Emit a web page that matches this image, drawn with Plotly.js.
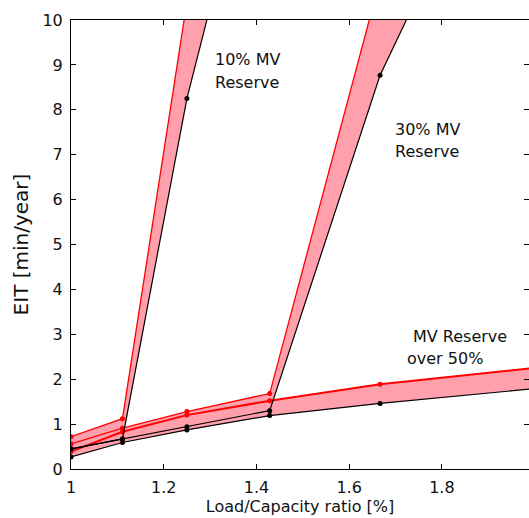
<!DOCTYPE html>
<html><head><meta charset="utf-8">
<script src="https://cdn.plot.ly/plotly-3.0.1.min.js"></script>
<style>html,body{margin:0;padding:0;background:#fff;overflow:hidden}</style>
</head><body><div id="chart" style="width:529px;height:518px"></div>
<script>
// Load/Capacity ratio sample points (1/0.9, 1/0.8, ... )
const xLoad = [1, 1.111, 1.25, 1.4286, 1.6667, 2];
// 10% MV reserve band
const tenBlack = [0.45, 0.67, 8.25, 15.5];
const tenRed = [0.72, 1.12, 10.4];
// 30% MV reserve band
const thirtyBlack = [0.45, 0.67, 0.94, 1.30, 8.77, 16.0];
const thirtyRed = [0.56, 0.91, 1.28, 1.68, 10.9];
// MV reserve over 50% band
const fiftyBlack = [0.27, 0.59, 0.87, 1.19, 1.46, 1.79];
const fiftyRed = [0.39, 0.83, 1.20, 1.52, 1.89, 2.25];
const xTicks = [1, 1.2, 1.4, 1.6, 1.8];
const xTickLabels = ['1', '1.2', '1.4', '1.6', '1.8'];
const yTicks = [0, 1, 2, 3, 4, 5, 6, 7, 8, 9, 10];
const yTickLabels = ['0', '1', '2', '3', '4', '5', '6', '7', '8', '9', '10'];
const labelTexts = ['10% MV', 'Reserve', '30% MV', 'Reserve', 'MV Reserve', 'over 50%'];

const PINK = 'rgb(255,160,172)';
const FONT = 'DejaVu Sans, Arial, sans-serif';

function xs(arr) { return xLoad.slice(0, arr.length); }
const bands = [
  {b: fiftyBlack, r: fiftyRed, rw: 2},
  {b: thirtyBlack, r: thirtyRed, rw: 1.3},
  {b: tenBlack, r: tenRed, rw: 1.3}
];
const traces = [];
bands.forEach(bd => {
  traces.push({x: xs(bd.b), y: bd.b, mode: 'lines', line: {width: 0, color: PINK}, hoverinfo: 'skip', showlegend: false});
  traces.push({x: xs(bd.r), y: bd.r, mode: 'lines', fill: 'tonexty', fillcolor: PINK, line: {width: 0, color: PINK}, hoverinfo: 'skip', showlegend: false});
});
bands.forEach(bd => {
  traces.push({x: xs(bd.b), y: bd.b, mode: 'lines+markers', line: {width: 1.2, color: '#000'}, marker: {size: 5, color: '#000'}, showlegend: false});
  traces.push({x: xs(bd.r), y: bd.r, mode: 'lines+markers', line: {width: bd.rw, color: '#ff0000'}, marker: {size: 5, color: '#ff0000'}, showlegend: false});
});

const labelPos = [[1.3056, 9.11], [1.3056, 8.60], [1.6943, 7.57], [1.6943, 7.08], [1.7332, 2.96], [1.7202, 2.47]];
const annotations = labelTexts.map((t, i) => ({
  text: t, x: labelPos[i][0], y: labelPos[i][1], xref: 'x', yref: 'y',
  xanchor: 'left', yanchor: 'middle', showarrow: false,
  font: {family: FONT, size: 16, color: '#111'}
}));

const axisCommon = {
  showgrid: false, zeroline: false, showline: true, linecolor: '#000', linewidth: 1,
  ticks: 'inside', ticklen: 5, tickcolor: '#000', mirror: 'ticks',
  tickfont: {family: FONT, size: 16, color: '#111'}
};
const layout = {
  width: 529, height: 518,
  margin: {l: 71, r: 0, t: 20, b: 49},
  paper_bgcolor: '#fff', plot_bgcolor: '#fff',
  font: {family: FONT, size: 16, color: '#111'},
  xaxis: Object.assign({}, axisCommon, {
    range: [1, 1.988], tickvals: xTicks, ticktext: xTickLabels, ticklabelstandoff: 4,
    title: {text: 'Load/Capacity ratio [%]', font: {family: FONT, size: 16, color: '#111'}, standoff: 4}
  }),
  yaxis: Object.assign({}, axisCommon, {
    range: [0, 10], tickvals: yTicks, ticktext: yTickLabels, ticklabelstandoff: 4,
    title: {text: 'EIT [min/year]', font: {family: FONT, size: 20, color: '#111'}, standoff: 8}
  }),
  annotations: annotations,
  showlegend: false
};
Plotly.newPlot('chart', traces, layout, {displayModeBar: false, staticPlot: true});
</script></body></html>
